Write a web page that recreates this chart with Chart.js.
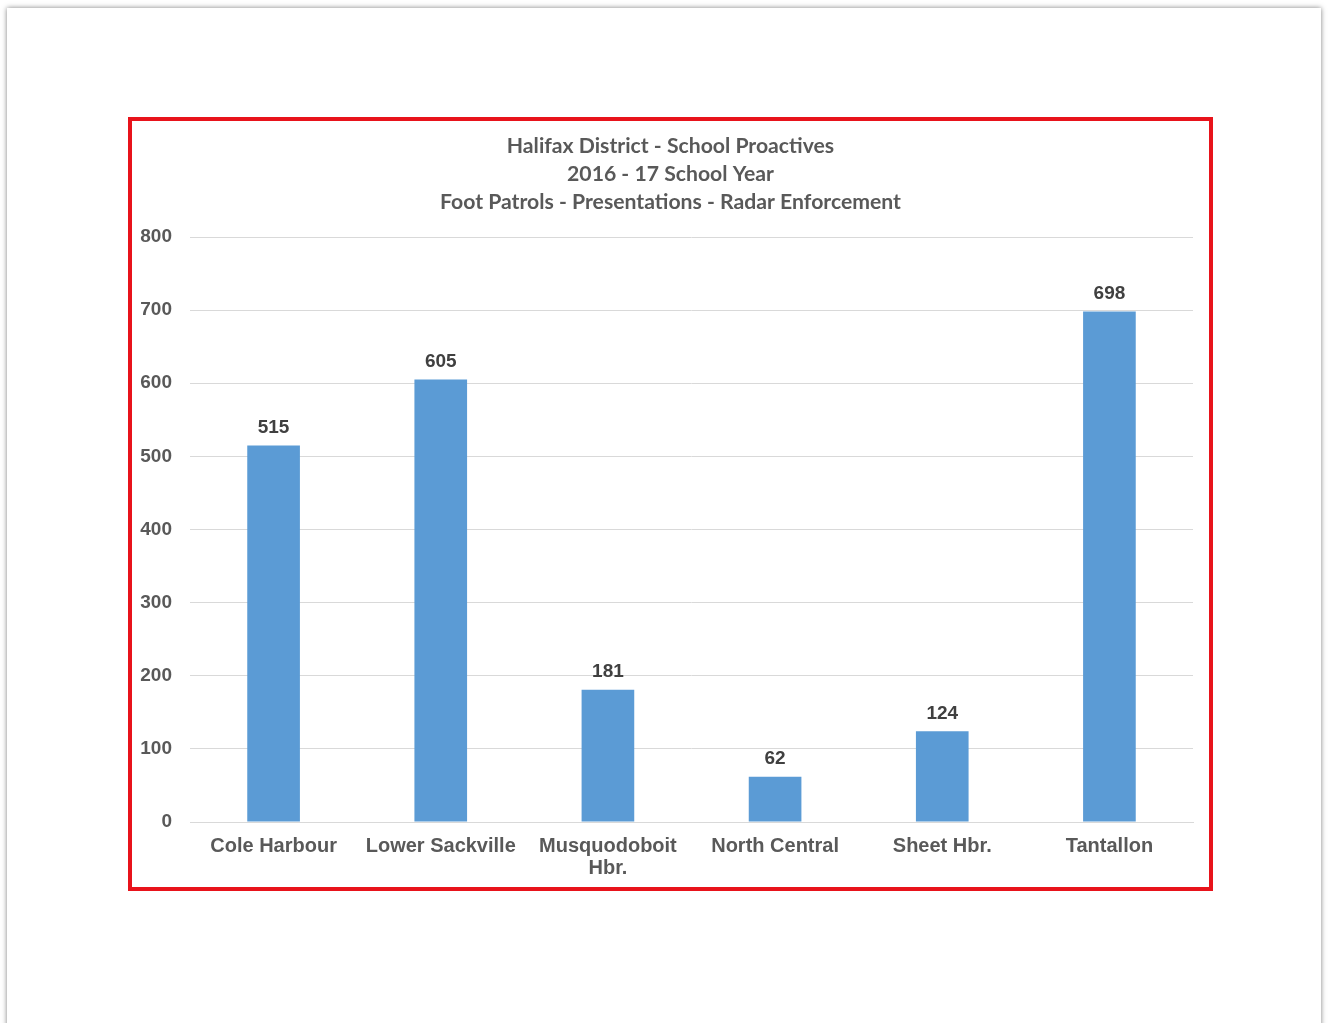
<!DOCTYPE html>
<html>
  <head>
    <title>Halifax District - School Proactives</title>
    <meta charset="utf-8" />
    <script src="https://cdn.jsdelivr.net/npm/chart.js@4.4.0/dist/chart.umd.min.js"></script>
    <style>
      html, body { margin: 0; padding: 0; background: #fff; overflow: hidden; }
      #paper {
        position: absolute; left: 7px; top: 8px; width: 1314px; height: 1100px;
        background: #fff; box-shadow: 0 0 5px rgba(0,0,0,0.5);
      }
      #frame {
        position: absolute; left: 128px; top: 117px; width: 1077px; height: 766px;
        border: 4px solid #e8131b;
      }
      canvas { display: block; }
    </style>
  </head>
  <body>
    <div id="paper"></div>
    <div id="frame"><canvas id="myChart" width="1077" height="766"></canvas></div>
    <script>
      const categories = ["Cole Harbour", "Lower Sackville", ["Musquodoboit", "Hbr."], "North Central", "Sheet Hbr.", "Tantallon"];
      const proactives = [515, 605, 181, 62, 124, 698];
      const titleLines = ["Halifax District - School Proactives", "2016 - 17 School Year", "Foot Patrols - Presentations - Radar Enforcement"];

      // values above each bar
      const barValues = {
        id: "barValues",
        afterDatasetsDraw(chart) {
          const ctx = chart.ctx;
          ctx.save();
          ctx.font = "bold 19px 'Liberation Sans', Arial, sans-serif";
          ctx.fillStyle = "#404040";
          ctx.textAlign = "center";
          ctx.textBaseline = "middle";
          chart.getDatasetMeta(0).data.forEach((bar, i) => {
            ctx.fillText(proactives[i], bar.x, bar.y - 18);
          });
          ctx.restore();
        }
      };

      // center the title on the whole canvas, not the padded box
      const wideTitle = {
        id: "wideTitle",
        afterLayout(chart) {
          const t = chart.titleBlock;
          if (t) { t.left = 0; t.right = chart.width; t.width = chart.width; }
        }
      };

      const ctx = document.getElementById("myChart").getContext("2d");
      const myBarChart = new Chart(ctx, {
        type: "bar",
        data: {
          labels: categories,
          datasets: [
            {
              data: proactives,
              backgroundColor: "#5b9bd5",
              categoryPercentage: 1,
              barPercentage: 0.315
            }
          ]
        },
        options: {
          responsive: false,
          devicePixelRatio: 1,
          animation: false,
          layout: { padding: { left: 0, right: 16, top: 0, bottom: 0 } },
          plugins: {
            legend: { display: false },
            tooltip: { enabled: false },
            title: {
              display: true,
              text: titleLines,
              color: "#595959",
              font: { family: "Lato, 'Open Sans', sans-serif", size: 21.2, weight: "bold", lineHeight: 28 / 21.2 },
              padding: { top: 11, bottom: 21 }
            }
          },
          scales: {
            x: {
              grid: { display: false, drawTicks: false },
              border: { color: "#d9d9d9" },
              ticks: {
                color: "#595959",
                padding: 13,
                maxRotation: 0,
                autoSkip: false,
                font: { family: "'Liberation Sans', Arial, sans-serif", size: 20, weight: "bold", lineHeight: 1.1 }
              },
              afterFit(s) { s.height = 65; }
            },
            y: {
              min: 0,
              max: 800,
              grid: { color: "#d9d9d9", drawTicks: false },
              border: { display: false },
              ticks: {
                stepSize: 100,
                color: "#595959",
                padding: 18,
                font: { family: "'Liberation Sans', Arial, sans-serif", size: 19, weight: "bold" }
              },
              afterFit(s) { s.width = 58; }
            }
          }
        },
        plugins: [barValues, wideTitle]
      });
    </script>
  </body>
</html>
